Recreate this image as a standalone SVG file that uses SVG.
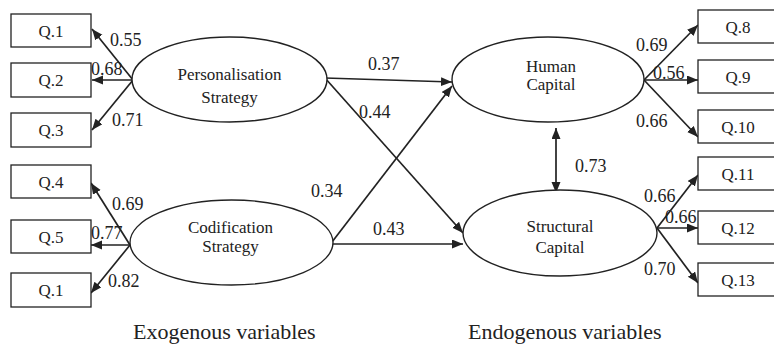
<svg xmlns="http://www.w3.org/2000/svg" width="774" height="345" viewBox="0 0 774 345" font-family="'Liberation Serif', 'Times New Roman', 'DejaVu Serif', serif">
<defs>
<style>
text{font-family:'Liberation Serif','Times New Roman','DejaVu Serif',serif;fill:#222}
.box{fill:#fff;stroke:#222;stroke-width:1.3}
.ell{fill:#fff;stroke:#222;stroke-width:1.4}
.q{font-size:17px;text-anchor:middle}
.nt{font-size:17px;text-anchor:middle}
.lbl{font-size:18px}
.foot{font-size:22px}
.c path{fill:none;stroke:#222;stroke-width:1.7;marker-end:url(#ah)}
</style>
<marker id="ah" markerUnits="userSpaceOnUse" markerWidth="12" markerHeight="10" refX="11" refY="4.5" orient="auto-start-reverse">
<path d="M0,0 L11,4.5 L0,9 z" fill="#222"/>
</marker>
</defs>
<rect width="774" height="345" fill="#fff"/>

<g id="connectors" class="c">
<path d="M133,80 L92,29"/>
<path d="M133,80 L92,80"/>
<path d="M133,80 L92,130"/>
<path d="M130,245 L91,183"/>
<path d="M130,245 L91,245"/>
<path d="M130,245 L91,293"/>
<path d="M644,80 L698,25"/>
<path d="M644,80 L698,80"/>
<path d="M644,80 L698,137"/>
<path d="M657,228 L698,175"/>
<path d="M657,228 L698,228"/>
<path d="M657,228 L698,283"/>
<path d="M325,78 L452,82"/>
<path d="M325,78 L463,233"/>
<path d="M332,242 L452,86"/>
<path d="M314,244 L463,244"/>
<path d="M556,128 L556,193" style="marker-start:url(#ah)"/>
</g>

<g id="q1a"><rect class="box" x="11" y="14" width="80" height="33"/><text class="q" x="51" y="36.5">Q.1</text></g>
<g id="q2"><rect class="box" x="11" y="63" width="80" height="34"/><text class="q" x="51" y="86">Q.2</text></g>
<g id="q3"><rect class="box" x="11" y="113" width="80" height="34"/><text class="q" x="51" y="136">Q.3</text></g>
<g id="q4"><rect class="box" x="11" y="165" width="80" height="33"/><text class="q" x="51" y="187.5">Q.4</text></g>
<g id="q5"><rect class="box" x="11" y="220" width="80" height="33"/><text class="q" x="51" y="242.5">Q.5</text></g>
<g id="q1b"><rect class="box" x="11" y="273" width="80" height="34"/><text class="q" x="51" y="296">Q.1</text></g>

<g id="q8"><rect class="box" x="698" y="10" width="80" height="33"/><text class="q" x="738" y="32.5">Q.8</text></g>
<g id="q9"><rect class="box" x="698" y="60" width="80" height="33"/><text class="q" x="738" y="82.5">Q.9</text></g>
<g id="q10"><rect class="box" x="698" y="110" width="80" height="33"/><text class="q" x="738" y="132.5">Q.10</text></g>
<g id="q11"><rect class="box" x="698" y="157" width="80" height="33"/><text class="q" x="738" y="179.5">Q.11</text></g>
<g id="q12"><rect class="box" x="698" y="211" width="80" height="33"/><text class="q" x="738" y="233.5">Q.12</text></g>
<g id="q13"><rect class="box" x="698" y="263" width="80" height="33"/><text class="q" x="738" y="285.5">Q.13</text></g>

<g id="personalisation"><ellipse class="ell" cx="229.5" cy="79.5" rx="97.5" ry="42.5"/><text class="nt" x="229.5" y="80">Personalisation</text><text class="nt" x="229.5" y="103">Strategy</text></g>
<g id="codification"><ellipse class="ell" cx="231.5" cy="242.5" rx="101.5" ry="42.5"/><text class="nt" x="230.5" y="233">Codification</text><text class="nt" x="230.5" y="252">Strategy</text></g>
<g id="human"><ellipse class="ell" cx="548" cy="79.5" rx="96" ry="42.5"/><text class="nt" x="551" y="72">Human</text><text class="nt" x="551" y="90">Capital</text></g>
<g id="structural"><ellipse class="ell" cx="560" cy="233" rx="97" ry="43"/><text class="nt" x="560" y="232">Structural</text><text class="nt" x="560" y="253">Capital</text></g>

<g id="labels" class="lbl">
<text x="110" y="46">0.55</text>
<text x="91" y="75">0.68</text>
<text x="112" y="126">0.71</text>
<text x="112" y="210">0.69</text>
<text x="91" y="239">0.77</text>
<text x="108" y="287">0.82</text>
<text x="368" y="70">0.37</text>
<text x="359" y="118">0.44</text>
<text x="311" y="197">0.34</text>
<text x="373" y="235">0.43</text>
<text x="636" y="51">0.69</text>
<text x="653" y="79">0.56</text>
<text x="636" y="127">0.66</text>
<text x="575" y="172">0.73</text>
<text x="644" y="202">0.66</text>
<text x="665" y="223">0.66</text>
<text x="644" y="275">0.70</text>
</g>

<text class="foot" x="133" y="339">Exogenous variables</text>
<text class="foot" x="468" y="339">Endogenous variables</text>
</svg>
